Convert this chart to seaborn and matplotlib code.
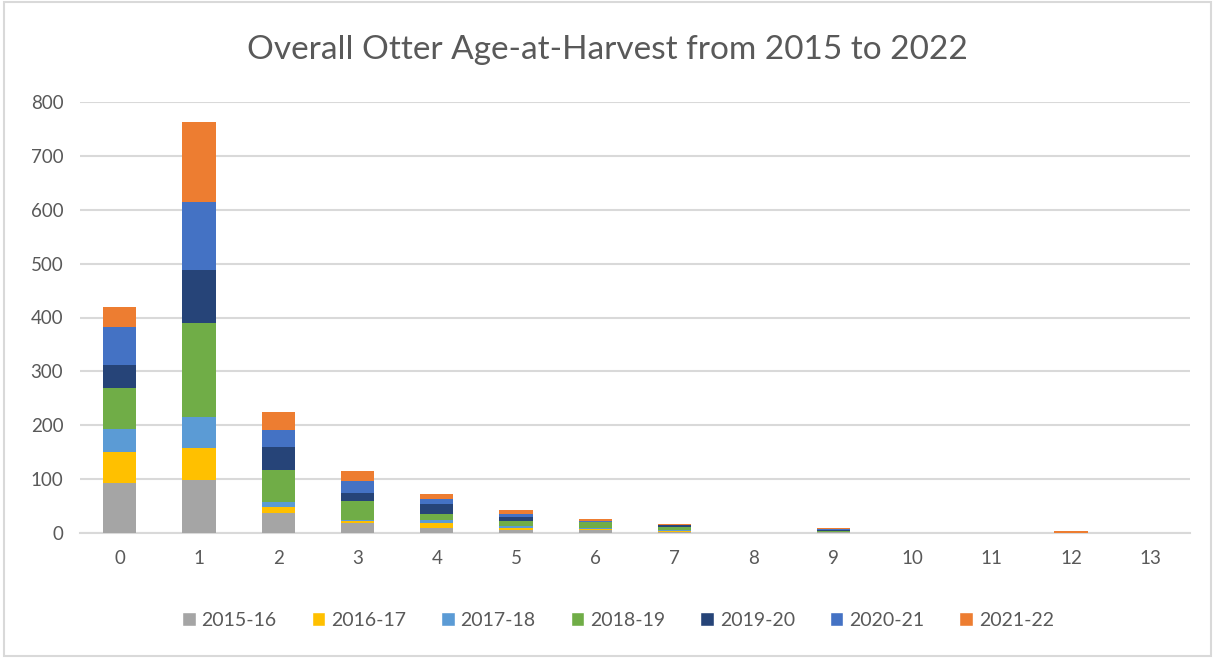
import numpy as np
import pandas as pd
import matplotlib.pyplot as plt
import seaborn as sns
from matplotlib.patches import Patch, Rectangle

sns.set_style('white')
plt.rcParams['font.family'] = ['Lato', 'DejaVu Sans']

ages = list(range(14))
seasons = ['2015-16', '2016-17', '2017-18', '2018-19', '2019-20', '2020-21', '2021-22']
colors = ['#A5A5A5', '#FFC000', '#5B9BD5', '#70AD47', '#264478', '#4472C4', '#ED7D31']

# counts per age (0..13) for each season
c_2015_16 = [93, 99, 38, 19, 9, 6, 6, 1, 0, 1, 0, 0, 0, 0]
c_2016_17 = [58, 59, 10, 4, 10, 3, 1, 3, 0, 0, 0, 0, 0, 0]
c_2017_18 = [42, 58, 9, 2, 5, 4, 3, 1, 0, 1, 0, 0, 0, 0]
c_2018_19 = [76, 173, 60, 35, 12, 9, 10, 6, 0, 2, 0, 0, 0, 0]
c_2019_20 = [43, 100, 43, 14, 17, 7, 0, 3, 0, 1, 0, 0, 0, 0]
c_2020_21 = [71, 125, 31, 22, 10, 7, 3, 0, 0, 2, 0, 0, 0, 0]
c_2021_22 = [36, 149, 33, 19, 9, 6, 3, 2, 0, 2, 0, 0, 3, 0]

counts = [c_2015_16, c_2016_17, c_2017_18, c_2018_19, c_2019_20, c_2020_21, c_2021_22]
rows = []
for s, vals in zip(seasons, counts):
    for a, v in zip(ages, vals):
        rows.append({'age': a, 'season': s, 'count': v})
df = pd.DataFrame(rows)

fig = plt.figure(figsize=(12.15, 6.58), dpi=100)
ax = fig.add_axes([80 / 1215, 1 - 533 / 658, 1110 / 1215, 431 / 658])

# seaborn stacks the first hue level on top, so reverse the order
sns.histplot(data=df, x='age', weights='count', hue='season',
             hue_order=seasons[::-1], palette=colors[::-1],
             multiple='stack', discrete=True, shrink=0.42,
             linewidth=0, alpha=1, legend=False, ax=ax)

# drop empty segments, keep the rest above the axis line
for p in list(ax.patches):
    if p.get_height() == 0:
        p.remove()
    else:
        p.set_zorder(3)

ax.set_xlim(-0.5, 13.5)
ax.set_ylim(0, 800)
ax.set_yticks(range(0, 801, 100))
ax.set_xticks(ages)
ax.yaxis.grid(True, color='#D9D9D9', linewidth=1.5)
ax.set_axisbelow(True)
for sp in ['top', 'right', 'left']:
    ax.spines[sp].set_visible(False)
ax.spines['bottom'].set_color('#D9D9D9')
ax.spines['bottom'].set_linewidth(1.5)
ax.tick_params(axis='both', length=0, labelsize=13.5, colors='#595959')
ax.tick_params(axis='x', pad=12)
ax.tick_params(axis='y', pad=12)
ax.set_xlabel('')
ax.set_ylabel('')

fig.suptitle('Overall Otter Age-at-Harvest from 2015 to 2022', y=1 - 50 / 658, va='center',
             fontsize=24, color='#595959')

handles = [Patch(facecolor=c, label=s) for s, c in zip(seasons, colors)]
fig.legend(handles=handles, loc='center', bbox_to_anchor=(618 / 1215, 1 - 620 / 658),
           ncol=7, frameon=False, fontsize=14, labelcolor='#595959',
           handlelength=0.7, handleheight=0.7, handletextpad=0.3, columnspacing=1.8)

fig.patches.append(Rectangle((0.003, 0.003), 0.994, 0.994, transform=fig.transFigure,
                             fill=False, edgecolor='#D9D9D9', linewidth=1.5))

fig.savefig('out.png', dpi=100)
